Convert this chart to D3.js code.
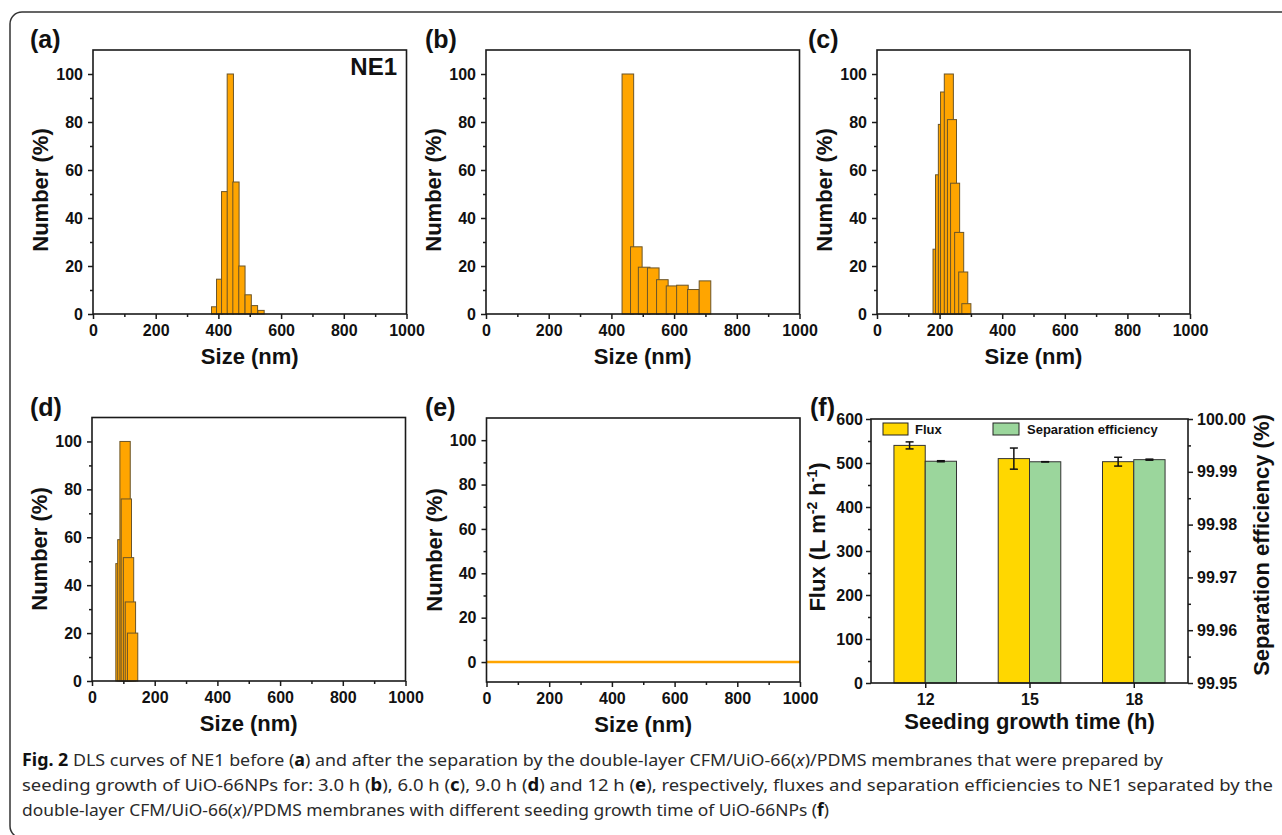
<!doctype html>
<html lang="en">

<head>
    <meta charset="utf-8">
    <script src="https://d3js.org/d3.v7.min.js"></script>
    <style>
        body { margin: 0; background: #fff; }
        svg { font-family: "Liberation Sans", Arial, sans-serif; font-weight: bold; }
        .axis text { font-family: "Liberation Sans", Arial, sans-serif; font-size: 16px; font-weight: bold; fill: #111; }
        .axis line { stroke: #1a1a1a; stroke-width: 1.5; }
        .axis path { display: none; }
        .caption { font-family: "Noto Sans", "Open Sans", sans-serif; font-weight: normal; font-size: 17px; fill: #2a2a2a; }
    </style>
</head>

<body>
    <div id="fig"></div>

    <script>
        // ---- data ----
        var sizeTicks = [0, 200, 400, 600, 800, 1000];
        var sizeMinor = [100, 300, 500, 700, 900];
        var numTicks = [0, 20, 40, 60, 80, 100];
        var numMinor = [10, 30, 50, 70, 90];

        // (a) NE1 before separation: bin left edge (nm), number (%)
        var sizeA = [378, 394, 410, 428, 446, 465, 485, 505, 526];
        var numA = [3, 14.5, 51, 100, 55, 20, 8, 3.5, 1.5];
        var binA = 20;

        // (b) 3.0 h
        var sizeB = [434, 461, 486, 515, 544, 575, 608, 643, 680];
        var numB = [100, 28, 19.5, 19.2, 14.3, 11.7, 12, 10.2, 13.8];
        var binB = 37;

        // (c) 6.0 h
        var sizeC = [179, 187, 196, 203, 215, 225, 235, 248, 261, 271];
        var numC = [27, 58, 79, 92.5, 100, 81, 54.5, 34, 17.5, 4.3];
        var binC = 29;

        // (d) 9.0 h
        var sizeD = [76, 82, 89, 93, 100, 106, 113];
        var numD = [49, 59, 100, 76, 51.5, 33, 20];
        var binD = 33;

        // (e) 12 h: nothing left, flat line at zero
        var sizeE = [0, 1000];
        var numE = [0, 0];

        // (f) flux and separation efficiency
        var times = ['12', '15', '18'];
        var flux = [540, 510, 503];
        var fluxErr = [8, 24, 10];
        var eff = [99.9920, 99.9919, 99.9923];
        var effErr = [0.0001, 0.00002, 0.0001];
        var fluxTicks = [0, 100, 200, 300, 400, 500, 600];
        var fluxMinor = [50, 150, 250, 350, 450, 550];
        var effTicks = [99.95, 99.96, 99.97, 99.98, 99.99, 100.00];
        var effMinor = [99.955, 99.965, 99.975, 99.985, 99.995];

        var orange = '#ffa500', barEdge = '#6b5529';
        var gold = '#ffd700', green = '#9bd69c';

        var svg = d3.select('#fig').append('svg')
            .attr('width', 1282).attr('height', 835);

        // rounded outer frame
        svg.append('rect')
            .attr('x', 10).attr('y', 12).attr('width', 1300).attr('height', 826)
            .attr('rx', 12).attr('fill', 'none').attr('stroke', '#333').attr('stroke-width', 1.5);

        function addAxis(g, gen, transform, ticks, fmt, size, pad) {
            g.append('g').attr('class', 'axis').attr('transform', transform)
                .call(gen.tickValues(ticks).tickSizeInner(size).tickSizeOuter(0)
                    .tickPadding(pad).tickFormat(fmt));
        }

        function box(g, x, y) {
            g.append('rect')
                .attr('x', x.range()[0]).attr('y', y.range()[1])
                .attr('width', x.range()[1] - x.range()[0])
                .attr('height', y.range()[0] - y.range()[1])
                .attr('fill', 'none').attr('stroke', '#1a1a1a').attr('stroke-width', 1.6);
        }

        function label(txt, x, y) {
            svg.append('text').attr('x', x).attr('y', y)
                .attr('font-size', 25).attr('fill', '#111').text(txt);
        }

        // DLS histogram panels
        function dlsPanel(p) {
            var x = d3.scaleLinear().domain([0, 1000]).range([p.left, p.right]);
            var y = d3.scaleLinear().domain(p.yDomain).range([p.bottom, p.top]);
            var g = svg.append('g');

            if (p.sizes) {
                g.selectAll('rect.bar')
                    .data(d3.zip(p.sizes, p.vals))
                    .join('rect')
                    .attr('class', 'bar')
                    .attr('x', d => x(d[0]))
                    .attr('width', d => x(d[0] + p.bin) - x(d[0]))
                    .attr('y', d => y(d[1]))
                    .attr('height', d => y(0) - y(d[1]))
                    .attr('fill', orange)
                    .attr('stroke', barEdge)
                    .attr('stroke-width', 1);
            }
            if (p.line) {
                g.append('path')
                    .datum(d3.zip(p.line[0], p.line[1]))
                    .attr('d', d3.line().x(d => x(d[0])).y(d => y(d[1])))
                    .attr('fill', 'none').attr('stroke', orange).attr('stroke-width', 2.5);
            }

            addAxis(g, d3.axisBottom(x), `translate(0,${p.bottom})`, sizeTicks, d3.format('d'), 5, 6);
            addAxis(g, d3.axisBottom(x), `translate(0,${p.bottom})`, sizeMinor, '', 3, 0);
            addAxis(g, d3.axisLeft(y), `translate(${p.left},0)`, numTicks, d3.format('d'), 5, 5);
            addAxis(g, d3.axisLeft(y), `translate(${p.left},0)`, numMinor, '', 3, 0);
            box(g, x, y);

            g.append('text')
                .attr('x', (p.left + p.right) / 2).attr('y', p.bottom + 50)
                .attr('text-anchor', 'middle').attr('font-size', 22).attr('fill', '#111')
                .text('Size (nm)');
            g.append('text')
                .attr('transform', `translate(${p.left - 45},${p.titleY}) rotate(-90)`)
                .attr('text-anchor', 'middle').attr('font-size', 22).attr('fill', '#111')
                .text('Number (%)');
            label(p.tag, p.tagX, p.tagY);
            return g;
        }

        var gA = dlsPanel({ left: 93, right: 406.5, top: 50, bottom: 314, yDomain: [0, 110],
            sizes: sizeA, vals: numA, bin: binA, titleY: 190, tag: '(a)', tagX: 30, tagY: 48 });
        gA.append('text').attr('x', 397).attr('y', 75).attr('text-anchor', 'end')
            .attr('font-size', 24).attr('fill', '#111').text('NE1');

        dlsPanel({ left: 486, right: 799.5, top: 50, bottom: 314, yDomain: [0, 110],
            sizes: sizeB, vals: numB, bin: binB, titleY: 190, tag: '(b)', tagX: 425, tagY: 48 });
        dlsPanel({ left: 877, right: 1190, top: 50, bottom: 314, yDomain: [0, 110],
            sizes: sizeC, vals: numC, bin: binC, titleY: 190, tag: '(c)', tagX: 808, tagY: 48 });
        dlsPanel({ left: 92, right: 405.5, top: 417.5, bottom: 681, yDomain: [0, 110],
            sizes: sizeD, vals: numD, bin: binD, titleY: 549, tag: '(d)', tagX: 30, tagY: 416 });
        dlsPanel({ left: 486.5, right: 800, top: 418, bottom: 682, yDomain: [-9, 110],
            line: [sizeE, numE], titleY: 550, tag: '(e)', tagX: 425, tagY: 416 });

        // (f) flux / separation efficiency
        var fl = 871, fr = 1188, ft = 419, fb = 683;
        var xF = d3.scalePoint().domain(times).range([fl, fr]).padding(0.52);
        var yF = d3.scaleLinear().domain([0, 600]).range([fb, ft]);
        var yE = d3.scaleLinear().domain([99.95, 100.00]).range([fb, ft]);
        var bw = xF.step() * 0.3;
        var gF = svg.append('g');

        var rows = times.map((t, i) => ({ t: t, f: flux[i], fe: fluxErr[i], e: eff[i], ee: effErr[i] }));

        gF.selectAll('rect.flux').data(rows).join('rect')
            .attr('class', 'flux')
            .attr('x', d => xF(d.t) - bw).attr('width', bw)
            .attr('y', d => yF(d.f)).attr('height', d => yF(0) - yF(d.f))
            .attr('fill', gold).attr('stroke', '#333').attr('stroke-width', 1);
        gF.selectAll('rect.eff').data(rows).join('rect')
            .attr('class', 'eff')
            .attr('x', d => xF(d.t)).attr('width', bw)
            .attr('y', d => yE(d.e)).attr('height', d => yE(99.95) - yE(d.e))
            .attr('fill', green).attr('stroke', '#333').attr('stroke-width', 1);

        function errBars(cls, cx, lo, hi) {
            var eg = gF.selectAll('g.' + cls).data(rows).join('g').attr('class', cls)
                .attr('stroke', '#111').attr('stroke-width', 1.5);
            eg.append('line').attr('x1', cx).attr('x2', cx).attr('y1', hi).attr('y2', lo);
            eg.append('line').attr('x1', d => cx(d) - 4).attr('x2', d => cx(d) + 4).attr('y1', hi).attr('y2', hi);
            eg.append('line').attr('x1', d => cx(d) - 4).attr('x2', d => cx(d) + 4).attr('y1', lo).attr('y2', lo);
        }
        errBars('errf', d => xF(d.t) - bw / 2, d => yF(d.f - d.fe), d => yF(d.f + d.fe));
        errBars('erre', d => xF(d.t) + bw / 2, d => yE(d.e - d.ee), d => yE(d.e + d.ee));

        addAxis(gF, d3.axisBottom(xF), `translate(0,${fb})`, times, d => d, 5, 6);
        addAxis(gF, d3.axisLeft(yF), `translate(${fl},0)`, fluxTicks, d3.format('d'), 5, 3);
        addAxis(gF, d3.axisLeft(yF), `translate(${fl},0)`, fluxMinor, '', 3, 0);
        addAxis(gF, d3.axisRight(yE), `translate(${fr},0)`, effTicks, d3.format('.2f'), 5, 4);
        addAxis(gF, d3.axisRight(yE), `translate(${fr},0)`, effMinor, '', 3, 0);
        box(gF, d3.scaleLinear().range([fl, fr]), yF);

        // legend
        var leg = gF.append('g').attr('font-size', 13).attr('fill', '#111');
        leg.append('rect').attr('x', 883).attr('y', 423).attr('width', 25).attr('height', 12)
            .attr('fill', gold).attr('stroke', '#222');
        leg.append('text').attr('x', 915).attr('y', 434).text('Flux');
        leg.append('rect').attr('x', 993).attr('y', 423).attr('width', 26).attr('height', 12)
            .attr('fill', green).attr('stroke', '#222');
        leg.append('text').attr('x', 1027).attr('y', 434).text('Separation efficiency');

        // axis titles
        var ft1 = gF.append('text')
            .attr('transform', `translate(${fl - 46},${(ft + fb) / 2 - 14}) rotate(-90)`)
            .attr('text-anchor', 'middle').attr('font-size', 22).attr('fill', '#111');
        ft1.append('tspan').text('Flux (L m');
        ft1.append('tspan').attr('font-size', 14).attr('dy', -8).text('-2');
        ft1.append('tspan').attr('dy', 8).text(' h');
        ft1.append('tspan').attr('font-size', 14).attr('dy', -8).text('-1');
        ft1.append('tspan').attr('dy', 8).text(')');

        gF.append('text')
            .attr('transform', `translate(${fr + 81},${(ft + fb) / 2 - 6}) rotate(-90)`)
            .attr('text-anchor', 'middle').attr('font-size', 22).attr('fill', '#111')
            .text('Separation efficiency (%)');
        gF.append('text')
            .attr('x', (fl + fr) / 2).attr('y', fb + 46)
            .attr('text-anchor', 'middle').attr('font-size', 22).attr('fill', '#111')
            .text('Seeding growth time (h)');
        label('(f)', 810, 416);

        // caption
        var capLines = [
            { y: 766, len: 1141, parts: [['Fig. 2', 'b'], [' DLS curves of NE1 before ('], ['a', 'b'], [') and after the separation by the double-layer CFM/UiO-66('], ['x', 'i'], [')/PDMS membranes that were prepared by']] },
            { y: 791, len: 1251, parts: [['seeding growth of UiO-66NPs for: 3.0 h ('], ['b', 'b'], ['), 6.0 h ('], ['c', 'b'], ['), 9.0 h ('], ['d', 'b'], [') and 12 h ('], ['e', 'b'], ['), respectively, fluxes and separation efficiencies to NE1 separated by the']] },
            { y: 816, len: 807, parts: [['double-layer CFM/UiO-66('], ['x', 'i'], [')/PDMS membranes with different seeding growth time of UiO-66NPs ('], ['f', 'b'], [')']] }
        ];
        capLines.forEach(function (ln) {
            var t = svg.append('text').attr('class', 'caption')
                .attr('x', 22).attr('y', ln.y)
                .attr('textLength', ln.len).attr('lengthAdjust', 'spacingAndGlyphs');
            ln.parts.forEach(function (p) {
                var s = t.append('tspan').text(p[0]);
                if (p[1] === 'b') s.attr('font-weight', 'bold').attr('fill', '#111');
                if (p[1] === 'i') s.attr('font-style', 'italic');
            });
        });
    </script>
</body>

</html>
